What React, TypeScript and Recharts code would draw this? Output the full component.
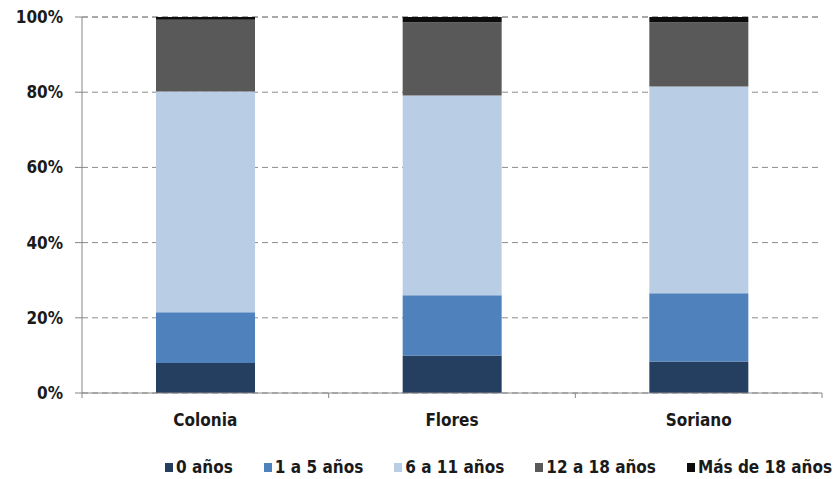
import { BarChart, Bar, XAxis, YAxis, CartesianGrid, Legend } from "recharts";

const departments = ["Colonia", "Flores", "Soriano"];

const ageGroups = ["0 años", "1 a 5 años", "6 a 11 años", "12 a 18 años", "Más de 18 años"];
const groupColors = ["#243F60", "#4F81BD", "#B9CDE5", "#595959", "#0D0D0D"];

// share of each age group per department, in percent
const age0 = [8.0, 10.0, 8.4];
const age1to5 = [13.5, 16.0, 18.1];
const age6to11 = [58.7, 53.1, 55.0];
const age12to18 = [19.1, 19.5, 17.1];
const over18 = [0.7, 1.4, 1.4];

const yTicks = [0, 20, 40, 60, 80, 100];

const series = [age0, age1to5, age6to11, age12to18, over18];

const data = departments.map((name, i) => {
  const row: Record<string, string | number> = { name };
  ageGroups.forEach((g, k) => {
    row[g] = series[k][i];
  });
  return row;
});

const FONT = "'DejaVu Sans Condensed', 'DejaVu Sans', sans-serif";
const AXIS = "#868686";
const TICK_MARGIN = 21;

// category label plus the small tick marks at the band edges, below the axis
function CategoryTick(props: any) {
  const { x, y, payload, index } = props;
  const half = payload.offset ?? 0;
  const axisY = y - TICK_MARGIN;
  return (
    <g>
      {index === 0 && <line x1={x - half} x2={x - half} y1={axisY} y2={axisY + 5} stroke={AXIS} />}
      <line x1={x + half} x2={x + half} y1={axisY} y2={axisY + 5} stroke={AXIS} />
      <text x={x} y={y} dy="0.71em" textAnchor="middle" fontFamily={FONT} fontSize={17} fontWeight="bold" fill="#1a1a1a">
        {payload.value}
      </text>
    </g>
  );
}

function AgeLegend() {
  return (
    <div
      style={{
        display: "flex",
        justifyContent: "flex-end",
        alignItems: "flex-end",
        height: 46,
        marginRight: -10,
        paddingBottom: 1,
        boxSizing: "border-box",
        fontFamily: FONT,
        fontSize: 17,
        fontWeight: "bold",
        lineHeight: "22px",
        color: "#1a1a1a",
      }}
    >
      {ageGroups.map((g, i) => (
        <div key={g} style={{ display: "flex", alignItems: "center", marginLeft: i === 0 ? 0 : 31 }}>
          <span style={{ width: 8, height: 9, background: groupColors[i], marginRight: 3, display: "inline-block" }} />
          <span>{g}</span>
        </div>
      ))}
    </div>
  );
}

export default function App() {
  return (
    <div style={{ position: "absolute", left: 0, top: 0, width: 834, height: 479, background: "#fff" }}>
      <BarChart
        width={834}
        height={479}
        data={data}
        margin={{ top: 17, right: 12, left: 0, bottom: 0 }}
        barCategoryGap="30%"
      >
        <CartesianGrid vertical={false} stroke="#8c8c8c" strokeDasharray="6 4" />
        <XAxis
          dataKey="name"
          height={40}
          tickLine={false}
          tickSize={0}
          tickMargin={TICK_MARGIN}
          axisLine={{ stroke: AXIS }}
          tick={<CategoryTick />}
        />
        <YAxis
          width={82}
          domain={[0, 100]}
          ticks={yTicks}
          tickFormatter={(v) => `${v}%`}
          tickSize={7}
          tickMargin={12}
          axisLine={{ stroke: AXIS }}
          tickLine={{ stroke: AXIS }}
          tick={{ fontFamily: FONT, fontSize: 17, fontWeight: "bold", fill: "#1a1a1a" }}
        />
        <Legend verticalAlign="bottom" content={() => <AgeLegend />} />
        {ageGroups.map((g, i) => (
          <Bar key={g} dataKey={g} stackId="age" fill={groupColors[i]} isAnimationActive={false} />
        ))}
      </BarChart>
    </div>
  );
}
